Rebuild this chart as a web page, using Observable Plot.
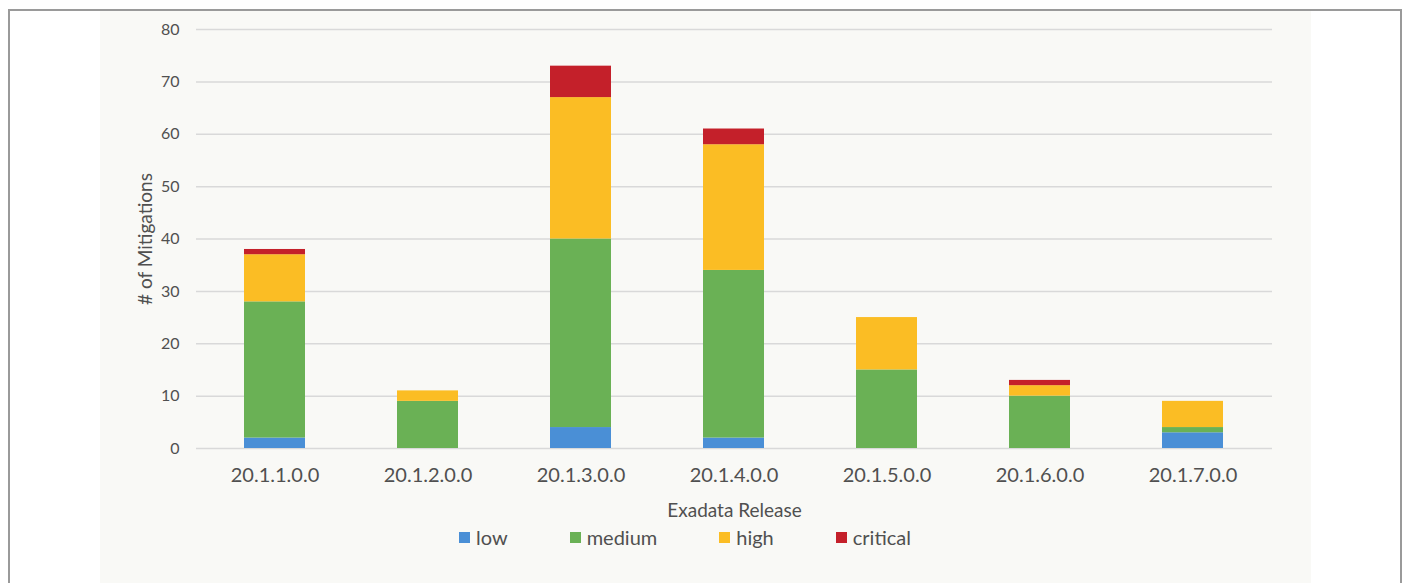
<!DOCTYPE html>
<html>
<head>
<meta charset="utf-8">
<script src="https://cdn.jsdelivr.net/npm/d3@7"></script>
<script src="https://cdn.jsdelivr.net/npm/@observablehq/plot@0.6"></script>
<style>
  html, body { margin: 0; padding: 0; background: #ffffff; }
  #page { position: relative; width: 1411px; height: 583px; overflow: hidden; font-family: Lato, "Open Sans", sans-serif; }
  #frame { position: absolute; left: 8px; top: 9px; width: 1394px; height: 600px; border: 2px solid #9a9a9a; box-sizing: border-box; }
  #panel { position: absolute; left: 100px; top: 11px; width: 1211px; height: 572px; background: #f9f9f6; }
  #chart { position: absolute; left: 0; top: 0; }
  #legend { position: absolute; left: 459px; top: 525px; display: flex; gap: 62px; align-items: center; font-size: 20px; color: #505050; }
  .item { display: flex; align-items: center; gap: 6px; }
  .sw { width: 11px; height: 11px; display: inline-block; }
</style>
</head>
<body>
<div id="page">
  <div id="frame"></div>
  <div id="panel"></div>
  <div id="chart"></div>
  <div id="legend"></div>
</div>
<script>
const releases = ["20.1.1.0.0", "20.1.2.0.0", "20.1.3.0.0", "20.1.4.0.0", "20.1.5.0.0", "20.1.6.0.0", "20.1.7.0.0"];
const severities = ["low", "medium", "high", "critical"];
const colors = ["#4a8fd6", "#6ab155", "#fbbd24", "#c4202a"];
const low      = [2, 0, 4, 2, 0, 0, 3];
const medium   = [26, 9, 36, 32, 15, 10, 1];
const high     = [9, 2, 27, 24, 10, 2, 5];
const critical = [1, 0, 6, 3, 0, 1, 0];
const yTicks = [0, 10, 20, 30, 40, 50, 60, 70, 80];

const series = {low, medium, high, critical};
const data = [];
releases.forEach((r, i) => {
  severities.forEach(s => data.push({release: r, severity: s, value: series[s][i]}));
});

const textColor = "#505050";
const chart = Plot.plot({
  width: 1411,
  height: 520,
  marginLeft: 196,
  marginRight: 139,
  marginTop: 29,
  marginBottom: 72,
  style: {background: "transparent", fontFamily: "Lato, 'Open Sans', sans-serif", color: textColor},
  x: {domain: releases, paddingInner: 0.6, paddingOuter: 0.3, label: null},
  y: {domain: [0, 80], label: null},
  color: {domain: severities, range: colors},
  marks: [
    Plot.ruleY(yTicks, {stroke: "#d9d9d9", strokeWidth: 1.5}),
    Plot.barY(data, {x: "release", y: "value", fill: "severity", order: severities}),
    Plot.axisY(yTicks, {tickSize: 0, tickPadding: 17, fontSize: 16, fill: textColor, label: null}),
    Plot.axisX({tickSize: 0, tickPadding: 19, fontSize: 20, fill: textColor, label: null}),
    Plot.text(["Exadata Release"], {frameAnchor: "bottom", dy: 62, lineAnchor: "middle", fontSize: 19, fill: textColor}),
    Plot.text(["# of Mitigations"], {frameAnchor: "left", dx: -51, textAnchor: "middle", lineAnchor: "middle", rotate: -90, fontSize: 19, fill: textColor})
  ]
});
document.getElementById("chart").appendChild(chart);

const legend = document.getElementById("legend");
severities.forEach((s, i) => {
  const it = document.createElement("div");
  it.className = "item";
  it.innerHTML = `<span class="sw" style="background:${colors[i]}"></span><span>${s}</span>`;
  legend.appendChild(it);
});
</script>
</body>
</html>
